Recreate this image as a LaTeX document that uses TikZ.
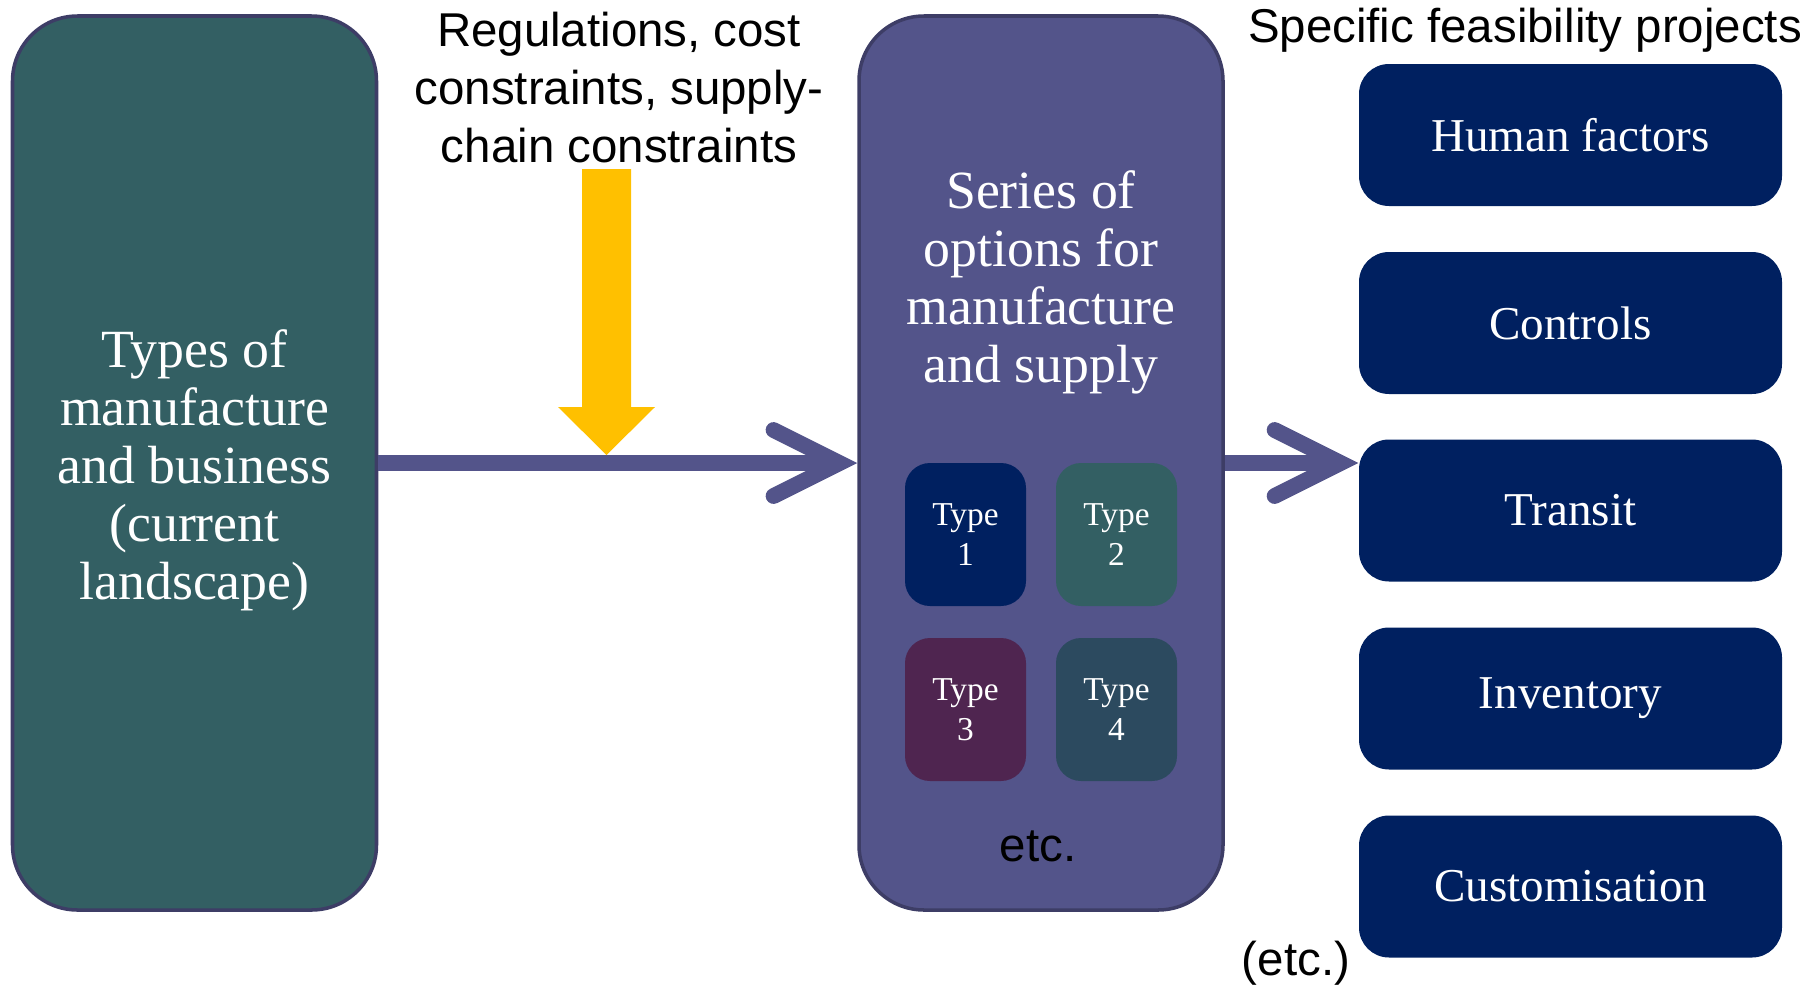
\documentclass[tikz,border=0pt]{standalone}
\usepackage{fontspec}
\setmainfont{Liberation Serif}
\newfontfamily\arialfont{Liberation Sans}
\usetikzlibrary{arrows.meta}
\definecolor{tealbox}{RGB}{51,95,99}
\definecolor{purplebox}{RGB}{83,84,138}
\definecolor{edgebox}{RGB}{61,61,102}
\definecolor{navybox}{RGB}{0,32,96}
\definecolor{plumbox}{RGB}{79,37,80}
\definecolor{slatebox}{RGB}{44,74,95}
\definecolor{goldarrow}{RGB}{255,192,0}

\begin{document}
\begin{tikzpicture}[
  bigbox/.style={draw=edgebox, line width=1pt, rounded corners=0.65cm, minimum width=3.64cm, minimum height=8.94cm, text=white, align=center, font=\fontsize{15.3}{16.5}\selectfont},
  projbox/.style={fill=navybox, rounded corners=0.3cm, minimum width=4.23cm, minimum height=1.42cm, text=white, font=\fontsize{13.4}{16}\selectfont},
  typebox/.style={rounded corners=0.25cm, minimum width=1.21cm, minimum height=1.43cm, text=white, align=center, font=\fontsize{9.5}{11.4}\selectfont},
  flow/.style={purplebox, line width=4.5pt, -{Straight Barb[length=6.6mm,width=6.6mm,line cap=round]}},
  sanslabel/.style={font=\arialfont\fontsize{13.5}{16.5}\selectfont, align=center}
]
\useasboundingbox (0,0) rectangle (18.18,-9.84);
\node[bigbox, fill=tealbox] (landscape) at (1.945,-4.63) {};
\node[text=white, align=center, font=\fontsize{15.3}{16.5}\selectfont] (lstext) at (1.945,-4.70) {Types of\\manufacture\\and business\\(current\\landscape)};
\node[bigbox, fill=purplebox] (options) at (10.41,-4.63) {};
\node[text=white, align=center, font=\fontsize{15.3}{16.5}\selectfont] (optext) at (10.41,-2.82) {Series of\\options for\\manufacture\\and supply};
\node[typebox, fill=navybox] (type1) at (9.655,-5.345) {Type\\1};
\node[typebox, fill=tealbox] (type2) at (11.165,-5.345) {Type\\2};
\node[typebox, fill=plumbox] (type3) at (9.655,-7.095) {Type\\3};
\node[typebox, fill=slatebox] (type4) at (11.165,-7.095) {Type\\4};
\node[sanslabel] (optetc) at (10.38,-8.46) {etc.};
\node[projbox] (human) at (15.705,-1.35) {Human factors};
\node[projbox] (controls) at (15.705,-3.23) {Controls};
\node[projbox] (transit) at (15.705,-5.105) {Transit};
\node[projbox] (inventory) at (15.705,-6.985) {Inventory};
\node[projbox] (custom) at (15.705,-8.865) {Customisation};
\node[sanslabel] (regs) at (6.19,-0.88) {Regulations, cost\\constraints, supply-\\chain constraints};
\node[sanslabel] (projtitle) at (15.25,-0.30) {Specific feasibility projects};
\node[sanslabel] (projetc) at (12.96,-9.63) {(etc.)};
\draw[flow] (landscape) -- (options);
\draw[flow] (options.east) -- (options.east -| transit.west);
\fill[goldarrow] (5.82,-1.69) -- (6.31,-1.69) -- (6.31,-4.07) -- (6.55,-4.07) -- (6.065,-4.55) -- (5.58,-4.07) -- (5.82,-4.07) -- cycle;
\end{tikzpicture}
\end{document}
